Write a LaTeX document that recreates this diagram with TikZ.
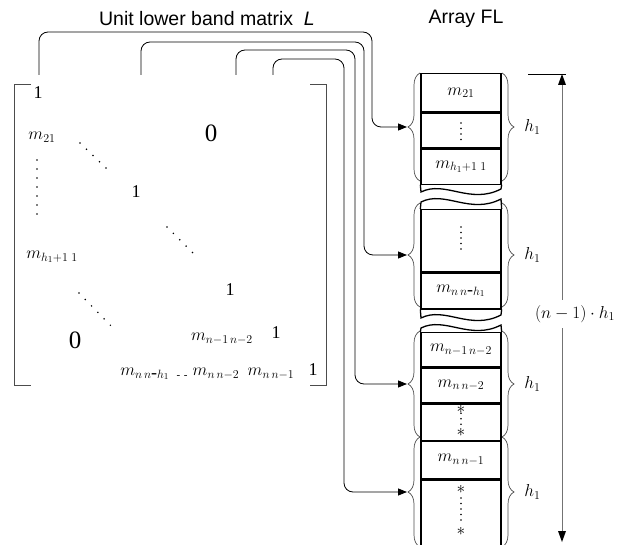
\documentclass[tikz,border=0pt]{standalone}
\usepackage{fontspec}
\setmainfont{Liberation Serif}
\newfontfamily\arialf{Liberation Sans}
\usetikzlibrary{arrows.meta, positioning, decorations.pathreplacing}

\begin{document}
\begin{tikzpicture}[
		x=1pt, y=-1pt,
		ent/.style={font=\fontsize{18}{20}\selectfont, inner sep=0pt, text=black},
		big/.style={font=\fontsize{25}{28}\selectfont, inner sep=0pt},
		ttl/.style={font=\arialf\fontsize{19.5}{22}\selectfont},
		cell/.style={draw, line width=1.3pt, minimum width=80pt, anchor=north, inner sep=0pt,
			font=\fontsize{18}{20}\selectfont},
		conn/.style={-{Triangle[length=9pt,width=7pt]}, line width=0.8pt, rounded corners=9pt},
		brc/.style={decorate, decoration={brace, amplitude=12pt}, line width=0.7pt, black!70},
		mbr/.style={line width=0.8pt, black!70},
		dd/.style={line width=1.7pt, line cap=round, dash pattern=on 0pt off 9pt},
		cd/.style={line width=1.7pt, line cap=round, dash pattern=on 0pt off 5.5pt}
	]
	\useasboundingbox (0,0) rectangle (619,545);

	% titles
	\node[ttl] (tl) at (207,19) {Unit lower band matrix\ \ \textit{L}};
	\node[ttl] (tf) at (466,19) {Array FL};

	% matrix L
	\draw[mbr] (31,84) -- (14,84) -- (14,385) -- (31,385);
	\draw[mbr] (310,84) -- (326,84) -- (326,385) -- (310,385);
	\node[ent] (one1) at (38,93) {1};
	\node[ent] (m21) at (42,137) {$m_{21}$};
	\node[big] (zero1) at (211,133) {0};
	\node[ent] (one2) at (136,192) {1};
	\node[ent] (mh) at (52,257) {$m_{h_1+1\;1}$};
	\node[ent] (one3) at (230,290) {1};
	\node[big] (zero2) at (75,340) {0};
	\node[ent] (mnm) at (222,339) {$m_{n-1\,n-2}$};
	\node[ent] (one4) at (276,333) {1};
	\node[ent] (mnh) at (145,374) {$m_{n\,n\mbox{-}h_1}$};
	\node[ent, font=\fontsize{11}{12}\selectfont] (dsh) at (182,377) {-\,\,-};
	\node[ent] (mn2) at (216,374) {$m_{n\,n-2}$};
	\node[ent] (mn1) at (271,374) {$m_{n\,n-1}$};
	\node[ent] (one5) at (313,370) {1};
	\draw[dd] (80,143) -- (108,170);
	\draw[dd] (167,227) -- (194,254);
	\draw[dd] (79,293) -- (114,329);
	\draw[dd] (37,160) -- (37,221);

	% array FL
	\node[cell, minimum height=38pt] (f1) at (461,73) {$m_{21}$};
	\node[cell, minimum height=35pt, below=0pt of f1] (f2) {};
	\node[cell, minimum height=35pt, below=0pt of f2] (f3) {$m_{h_1+1\;1}$};
	\node[cell, minimum height=62pt] (f4) at (461,209) {};
	\node[cell, minimum height=36pt, below=0pt of f4] (f5) {$m_{n\,n\mbox{-}h_1}$};
	\node[cell, minimum height=34pt] (f6) at (461,332) {$m_{n-1\,n-2}$};
	\node[cell, minimum height=35pt, below=0pt of f6] (f7) {$m_{n\,n-2}$};
	\node[cell, minimum height=36pt, below=0pt of f7] (f8) {};
	\node[cell, minimum height=37pt, below=0pt of f8] (f9) {$m_{n\,n-1}$};
	\node[cell, minimum height=80pt, below=0pt of f9] (f10) {};
	\draw[cd] (461,123) -- (461,140);
	\draw[cd] (461,227) -- (461,250);
	\node[ent] (a1) at (461,409) {$\ast$};
	\node[ent] (a2) at (461,432) {$\ast$};
	\node[ent] (a3) at (461,489) {$\ast$};
	\node[ent] (a4) at (461,531) {$\ast$};
	\draw[cd] (a1) -- (a2);
	\draw[cd] (461,498) -- (461,521);
	% breaks
	\draw[line width=1.3pt] (f3.south west) -- (421,192) .. controls (445,180) and (470,205) .. (501,189) -- (f3.south east);
	\draw[line width=1.3pt] (f4.north west) -- (421,202) .. controls (445,190) and (470,215) .. (501,199) -- (f4.north east);
	\draw[line width=1.3pt] (f5.south west) -- (421,318) .. controls (445,306) and (470,331) .. (501,315) -- (f5.south east);
	\draw[line width=1.3pt] (f6.north west) -- (421,328) .. controls (445,316) and (470,341) .. (501,325) -- (f6.north east);

	% braces
	\draw[brc] (420,181) -- coordinate[midway, xshift=-13pt] (t1) (420,73);
	\draw[brc] (420,307) -- coordinate[midway, xshift=-13pt] (t2) (420,203);
	\draw[brc] (420,437) -- coordinate[midway, xshift=-13pt] (t3) (420,331);
	\draw[brc] (420,547) -- coordinate[midway, xshift=-13pt] (t4) (420,437);
	\draw[brc] (502,73) -- node[midway, right=22pt, ent] (h1) {$h_1$} (502,181);
	\draw[brc] (502,203) -- node[midway, right=22pt, ent] (h2) {$h_1$} (502,307);
	\draw[brc] (502,331) -- node[midway, right=22pt, ent] (h3) {$h_1$} (502,437);
	\draw[brc] (502,437) -- node[midway, right=22pt, ent] (h4) {$h_1$} (502,547);

	% connectors
	\coordinate (s1) at (39,75);
	\coordinate (s2) at (141,75);
	\coordinate (s3) at (236,75);
	\coordinate (s4) at (273,75);
	\draw[conn] (s1) |- (372,32) |- (t1);
	\draw[conn] (s2) |- (364,42) |- (t2);
	\draw[conn] (s3) |- (355,50) |- (t3);
	\draw[conn] (s4) |- (344,59) |- (t4);

	% total height
	\draw[line width=0.8pt] (528,74) -- (566,74);
	\draw[line width=0.8pt, black!55] (562,84) -- (562,532);
	\fill (562,74) -- (558,85) -- (566,85) -- cycle;
	\fill (562,542) -- (558,531) -- (566,531) -- cycle;
	\node[ent, fill=white, inner ysep=5pt] (tot) at (575,314) {$\bigl(n-1\bigr)\cdot h_1$};
\end{tikzpicture}
\end{document}
